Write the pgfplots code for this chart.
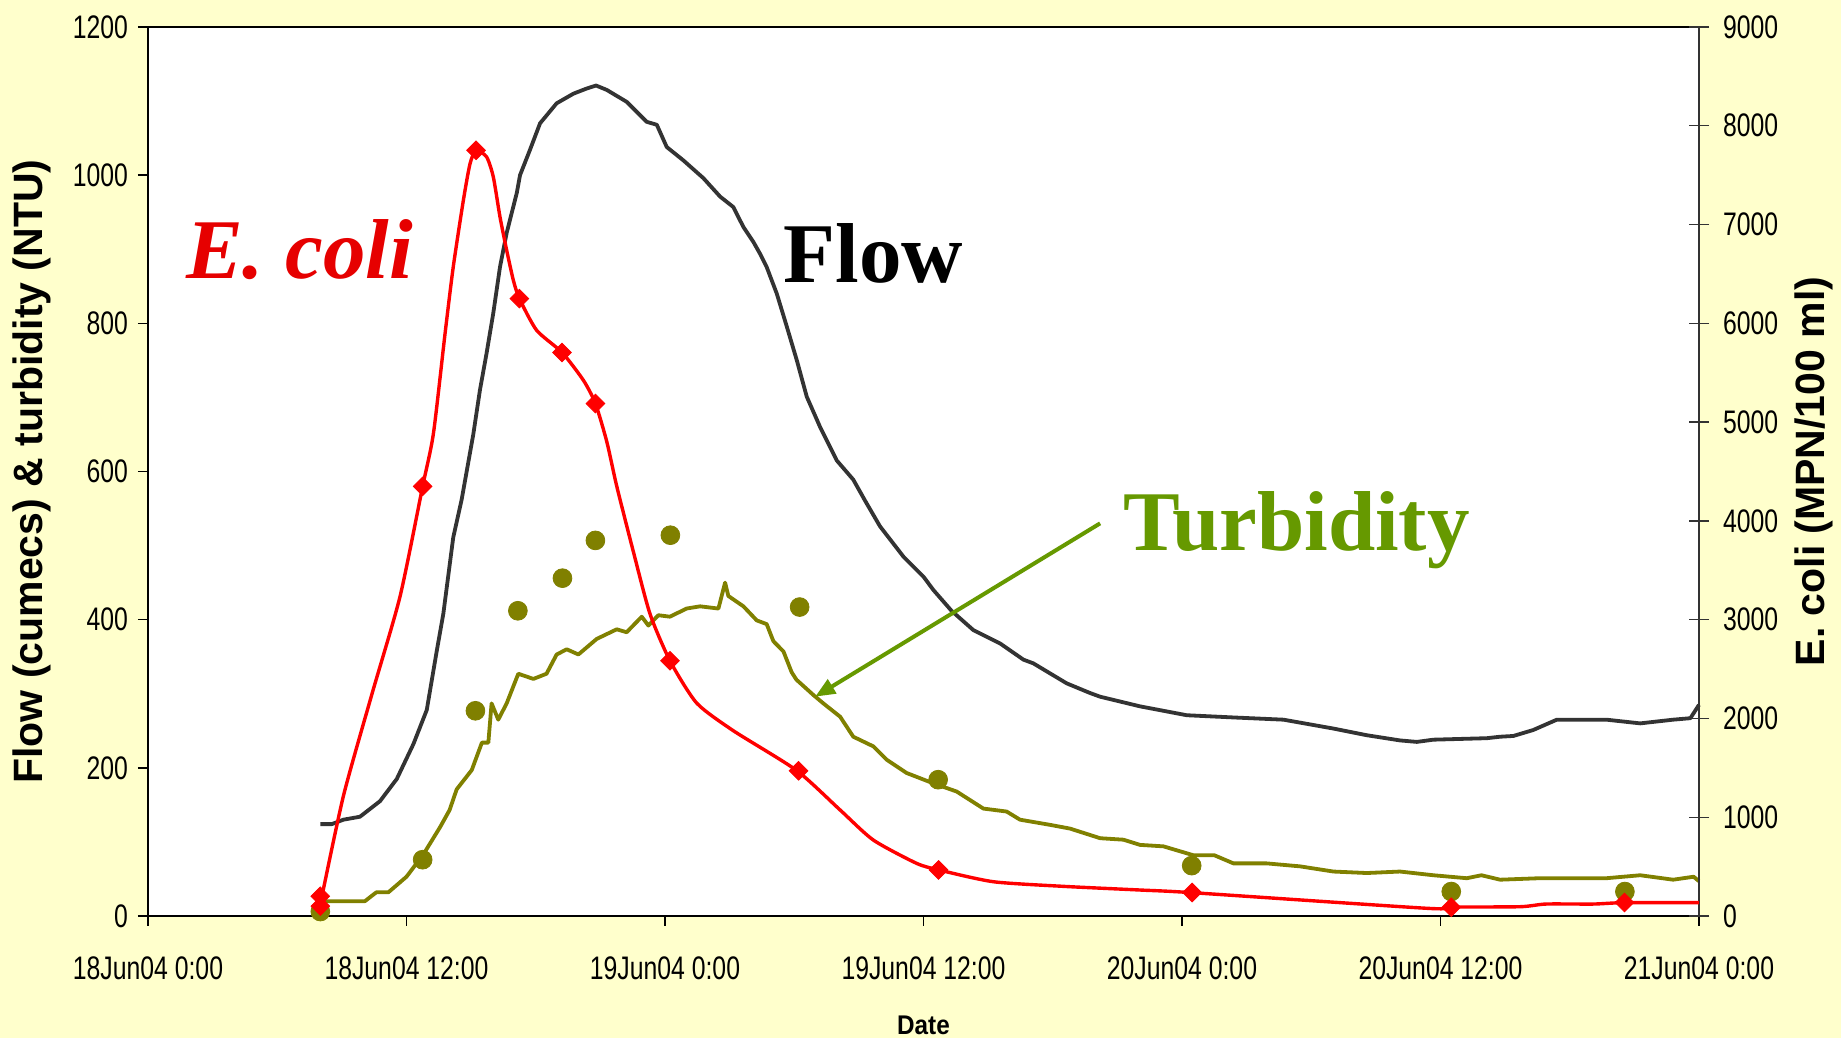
\documentclass[border=0pt]{standalone}
\usepackage{pgfplots}
\pgfplotsset{compat=1.18}
\usepackage{pgfplotstable}
\usetikzlibrary{arrows.meta}
\usepackage{fontspec}
\setmainfont{Liberation Serif}
\newfontfamily\tickfont[FakeStretch=0.76]{Liberation Sans}
\newfontfamily\labelfont{Liberation Sans}
\newfontfamily\datefont[FakeStretch=0.9]{Liberation Sans}
\definecolor{bgyellow}{RGB}{255,255,204}
\definecolor{flowgray}{RGB}{51,51,51}
\definecolor{turbolive}{RGB}{128,128,0}
\definecolor{annotgreen}{RGB}{102,153,0}
\definecolor{ecolitext}{RGB}{230,0,0}

\pgfplotstableread{
h v
8.0 124
8.53 124
9.07 130
9.84 134
10.77 155
11.55 185
12.32 232
12.94 278
13.4 357
13.71 408
14.17 511
14.56 562
15.1 650
15.41 710
15.72 760
16.03 814
16.34 876
16.65 922
17.12 976
17.27 1000
17.73 1034
18.2 1070
18.97 1097
19.75 1110
20.37 1117
20.8 1121
21.3 1115
22.22 1099
23.15 1072
23.62 1068
24.08 1038
24.85 1020
25.78 996
26.56 971
27.17 957
27.64 930
28.1 910
28.41 894
28.72 876
29.19 840
29.65 796
30.12 750
30.58 701
31.2 660
31.97 615
32.74 589
33.3 560
33.98 526
35.07 485
36.0 458
36.46 440
37.3 412
38.31 386
39.55 368
40.64 346
41.1 341
42.65 314
43.73 301
44.2 296
46.05 283
48.22 271
50.39 268
52.71 265
55.03 253
56.58 244
58.12 237
58.9 235
59.67 238
62.15 240
62.77 242
63.38 243
64.3 251
65.4 265
67.7 265
69.27 260
70.8 265
71.6 267
72.0 285
}\flowdata

\pgfplotstableread{
h v
8.0 20
10.07 20
10.6 32
11.16 32
12.0 53
12.78 83
13.56 120
14.0 143
14.33 171
15.03 197
15.5 234
15.8 234
15.95 287
16.26 265
16.65 287
17.19 327
17.89 320
18.5 327
18.97 353
19.44 360
19.98 353
20.83 374
21.76 387
22.22 383
22.92 404
23.23 392
23.69 406
24.23 404
25.0 415
25.63 418
26.48 415
26.79 450
26.94 432
27.64 418
28.26 399
28.72 394
29.03 371
29.5 357
29.88 329
30.1 319
30.9 298
31.35 287
32.13 269
32.74 242
33.67 229
34.29 211
35.22 193
36.46 179
37.54 168
38.78 145
39.86 141
40.48 130
41.88 123
42.8 118
44.2 105
45.28 103
46.05 96
47.14 94
48.53 82
49.5 82
50.39 71
51.94 71
53.48 67
55.03 60
56.58 58
58.12 60
59.67 55
61.22 51
61.9 55
62.77 49
64.6 51
67.7 51
69.27 55
70.8 49
71.75 53
72.0 47
}\turbline

\pgfplotstableread{
h v
8.0 6
12.75 76
15.2 277
17.17 412
19.24 456
20.77 507
24.25 514
30.25 417
36.68 184
48.45 68
60.5 33
68.56 33
}\turbdots

\pgfplotstableread{
h v
8.0 120
9.07 1214
10.4 2250
11.7 3235
12.75 4350
13.25 4885
13.79 5897
14.17 6571
14.64 7246
14.95 7617
15.23 7752
15.72 7684
16.03 7482
16.34 7077
16.65 6740
16.96 6436
17.24 6251
18.04 5930
19.22 5705
20.21 5424
20.77 5188
21.3 4800
21.76 4351
22.53 3689
23.3 3061
24.23 2584
25.47 2156
27.17 1876
30.1 1475
32.13 1073
33.67 769
35.68 533
36.72 466
39.24 347
42.5 300
46.05 263
48.48 236
59.36 78
60.52 90
63.7 94
64.9 121
67.1 121
68.52 135
72.0 135
}\ecoliline

\pgfplotstableread{
h v
8.0 100
8.0 200
12.75 4350
15.23 7752
17.24 6251
19.22 5705
20.77 5188
24.23 2584
30.2 1470
36.7 466
48.47 238
60.5 88
68.54 137
}\ecolidots

\begin{document}
\begin{tikzpicture}
\fill[bgyellow] (0,0) rectangle (920.5pt,519pt);
\useasboundingbox (0,0) rectangle (920.5pt,519pt);
\begin{axis}[
  at={(74pt,61pt)}, anchor=south west,
  scale only axis, width=775.5pt, height=444.5pt,
  xmin=0, xmax=72, ymin=0, ymax=1200,
  axis background/.style={fill=white},
  axis line style={black, line width=0.9pt},
  xtick={0,12,24,36,48,60,72},
  xticklabels={18Jun04 0:00,18Jun04 12:00,19Jun04 0:00,19Jun04 12:00,20Jun04 0:00,20Jun04 12:00,21Jun04 0:00},
  ytick={0,200,...,1200},
  xtick pos=bottom, ytick pos=left,
  tick align=outside, major tick length=5pt,
  tick style={black, line width=0.7pt},
  /pgf/number format/assume math mode=true,
  /pgf/number format/1000 sep={},
  yticklabel style={font=\tickfont\fontsize{16.3}{18}\selectfont, xshift=-1.5pt},
  xticklabel style={font=\tickfont\fontsize{16.3}{18}\selectfont, yshift=-12pt},
  every axis y label/.style={at={(axis description cs:-0.0748,0.5)}, rotate=90, anchor=center, font=\labelfont\bfseries\fontsize{20.5}{24}\selectfont},
  every axis x label/.style={at={(axis description cs:0.5,-0.1226)}, anchor=center, font=\datefont\bfseries\fontsize{13.5}{16}\selectfont},
  ylabel={Flow (cumecs) \& turbidity (NTU)},
  xlabel={Date},
  clip=false,
]
\addplot[flowgray, line width=1.9pt, line join=round] table[x=h,y=v] {\flowdata};
\addplot[turbolive, line width=1.9pt, line join=round] table[x=h,y=v] {\turbline};
\addplot[only marks, mark=*, mark size=4.7pt, mark options={turbolive, fill=turbolive}, turbolive] table[x=h,y=v] {\turbdots};
\node[anchor=base west, inner sep=0, text=ecolitext, font=\bfseries\itshape\fontsize{42.5}{48}\selectfont] at (axis cs:1.75,860) {E. coli};
\node[anchor=base west, inner sep=0, text=black, font=\bfseries\fontsize{42.5}{48}\selectfont] at (axis cs:29.49,855) {Flow};
\node[anchor=base west, inner sep=0, text=annotgreen, font=\bfseries\fontsize{42.5}{48}\selectfont] at (axis cs:45.25,493) {Turbidity};
\draw[annotgreen, line width=2pt, -{Triangle[length=10pt,width=8pt]}] (axis cs:44.2,530) -- (axis cs:30.97,296);
\end{axis}
\begin{axis}[
  at={(74pt,61pt)}, anchor=south west,
  scale only axis, width=775.5pt, height=444.5pt,
  xmin=0, xmax=72, ymin=0, ymax=9000,
  axis x line=none, axis y line*=right,
  axis line style={flowgray, line width=0.9pt},
  ytick={0,1000,...,9000},
  tick align=center, major tick length=10pt,
  tick style={flowgray, line width=0.7pt},
  /pgf/number format/assume math mode=true,
  /pgf/number format/1000 sep={},
  yticklabel style={font=\tickfont\fontsize{16.3}{18}\selectfont, xshift=3.5pt},
  every axis y label/.style={at={(axis description cs:1.0741,0.5)}, rotate=90, anchor=center, font=\labelfont\bfseries\fontsize{20.5}{24}\selectfont},
  ylabel={E. coli (MPN/100 ml)},
  clip=false,
]
\addplot[red, line width=1.7pt, smooth, tension=0.4] table[x=h,y=v] {\ecoliline};
\addplot[only marks, mark=square*, mark size=3.3pt, mark options={red, fill=red, rotate=45}] table[x=h,y=v] {\ecolidots};
\end{axis}
\end{tikzpicture}
\end{document}
